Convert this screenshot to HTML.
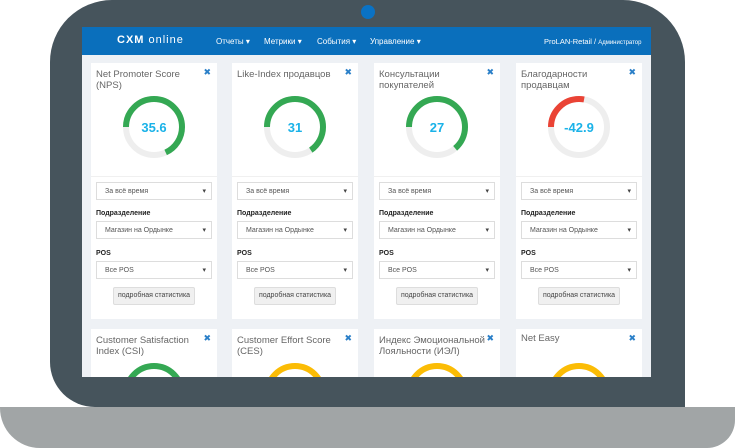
<!DOCTYPE html><html><head><meta charset="utf-8"><style>
*{margin:0;padding:0;box-sizing:border-box}
body{width:735px;height:448px;background:#fff;position:relative;overflow:hidden;font-family:"Liberation Sans","DejaVu Sans",sans-serif}
.abs{position:absolute}
.card{position:absolute;background:#fff;width:126px}
.t{position:absolute;left:5px;top:6px;font-size:9.5px;color:#666;line-height:11px;width:112px}
.x{position:absolute;right:6px;top:4px;color:#2a7fc8;font-size:9px;font-weight:bold}
.sep{position:absolute;left:0;right:0;top:113px;border-top:1px solid #f0f0f0}
.sel{position:absolute;left:5px;width:116px;height:18px;border:1px solid #ddd;font-size:7px;color:#555;padding:5px 8px}
.sel:after{content:"▾";position:absolute;right:5px;top:4px;font-size:7px;color:#444}
.lb{position:absolute;left:5px;font-size:7px;font-weight:bold;color:#222}
.btn{position:absolute;left:22px;width:82px;height:18px;background:#f0f0f0;border:1px solid #ddd;border-radius:2px;font-size:7px;color:#444;text-align:center;line-height:16px}
svg.g{position:absolute;left:31px;top:32px}
</style></head><body>
<div class="abs" style="left:0;top:407px;width:735px;height:41px;background:#a1a5a6;border-radius:0 0 28px 40px"></div>
<div class="abs" style="left:50px;top:0;width:635px;height:407px;background:#46545c;border-radius:62px 62px 0 45px"></div>
<div class="abs" style="left:361px;top:5px;width:14px;height:14px;border-radius:50%;background:#0a72c4"></div>
<div class="abs" style="left:82px;top:27px;width:569px;height:350px;background:#eef1f5;overflow:hidden">
<div class="abs" style="left:0;top:0;width:569px;height:28px;background:#0a6fbc;color:#fff;font-size:8px">
<div class="abs" style="left:35px;top:7px;font-size:11px;letter-spacing:1px;font-weight:bold">CXM <span style="font-weight:normal">online</span></div>
<div class="abs" style="left:134px;top:10px">Отчеты ▾</div>
<div class="abs" style="left:182px;top:10px">Метрики ▾</div>
<div class="abs" style="left:235px;top:10px">События ▾</div>
<div class="abs" style="left:288px;top:10px">Управление ▾</div>
<div class="abs" style="left:462px;top:10px;font-size:7.5px">ProLAN-Retail / <span style="font-size:6px">Администратор</span></div>
</div>
</div>
<div id="c" class="abs" style="left:82px;top:27px;width:569px;height:350px;overflow:hidden"></div>
<script>
var cols=[9,150,292,434];
var top1=[["Net Promoter Score (NPS)","35.6","#34a853",119.7],["Like-Index продавцов","31","#34a853",115],["Консультации покупателей","27","#34a853",112],["Благодарности продавцам","-42.9","#ea4335",49]];
var bot=[["Customer Satisfaction Index (CSI)","#34a853"],["Customer Effort Score (CES)","#fbbc05"],["Индекс Эмоциональной Лояльности (ИЭЛ)","#fbbc05"],["Net Easy","#fbbc05"]];
var h="";
for(var i=0;i<4;i++){var d=top1[i],L=cols[i];
h+='<div class="card" style="left:'+L+'px;top:36px;height:256px"><div class="t">'+d[0]+'</div><div class="x">✖</div>'+
'<svg class="g" width="64" height="64"><circle cx="32" cy="32" r="28" fill="none" stroke="#eee" stroke-width="6"/><circle cx="32" cy="32" r="28" fill="none" stroke="'+d[2]+'" stroke-width="6" stroke-dasharray="'+d[3]+' 200" transform="rotate(180 32 32)"/><text x="32" y="37" text-anchor="middle" font-size="13" font-weight="bold" fill="#1ab2e8" font-family="Liberation Sans">'+d[1]+'</text></svg>'+
'<div class="sep"></div><div class="sel" style="top:119px">За всё время</div><div class="lb" style="top:147px">Подразделение</div><div class="sel" style="top:158px">Магазин на Ордынке</div><div class="lb" style="top:187px">POS</div><div class="sel" style="top:198px">Все POS</div><div class="btn" style="top:224px">подробная статистика</div></div>';
var b=bot[i];
h+='<div class="card" style="left:'+L+'px;top:302px;height:60px"><div class="t"'+(i==3?' style="top:4px"':'')+'>'+b[0]+'</div><div class="x">✖</div><svg class="g" style="top:33px" width="64" height="64"><circle cx="32" cy="32" r="28" fill="none" stroke="'+b[1]+'" stroke-width="6"/></svg></div>';}
document.getElementById("c").innerHTML=h;
</script>
</body></html>
